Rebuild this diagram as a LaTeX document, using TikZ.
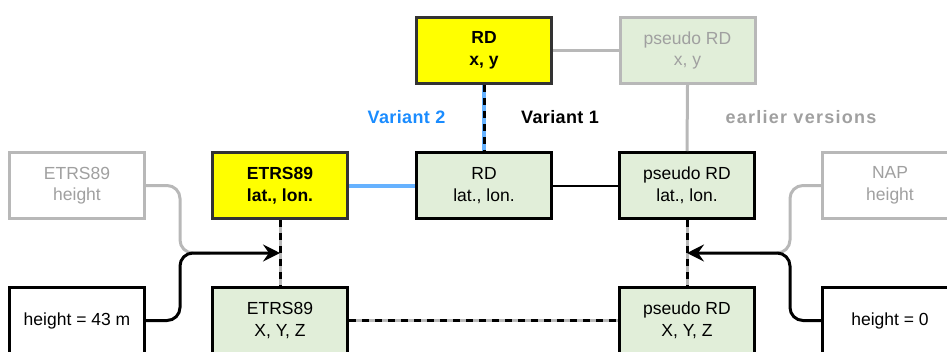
\documentclass[tikz,border=0pt]{standalone}
\usepackage{fontspec}
\setmainfont{Liberation Sans}
\usetikzlibrary{arrows.meta,calc}
\definecolor{gfill}{HTML}{E1EED9}
\definecolor{lgray}{HTML}{B8B8B8}
\definecolor{tgray}{HTML}{A0A0A0}
\definecolor{lblue}{HTML}{66B2FF}
\definecolor{tblue}{HTML}{1A8CFF}
\definecolor{dgray}{HTML}{333333}
\definecolor{yel}{HTML}{FFFF00}
\begin{document}
\begin{tikzpicture}[x=1pt,y=-1pt,
  font=\fontsize{17.5}{21.5}\selectfont,
  box/.style={rectangle, minimum width=135pt, minimum height=66pt, line width=3pt, align=center, inner sep=0pt},
  yelbox/.style={box, draw=dgray, fill=yel, font=\fontsize{17.5}{21.5}\selectfont\bfseries},
  grnbox/.style={box, draw=black, fill=gfill},
  oldbox/.style={box, draw=lgray, fill=white, text=tgray},
  oldgrn/.style={box, draw=lgray, fill=gfill, text=tgray},
  whtbox/.style={box, draw=black, fill=white},
  gline/.style={lgray, line width=3pt},
  bline/.style={lblue, line width=4pt},
  dashover/.style={black, line width=3pt, dash pattern=on 7pt off 6pt},
  lbl/.style={font=\fontsize{18}{21.5}\selectfont\bfseries\addfontfeature{LetterSpace=2}},
  lblwide/.style={font=\fontsize{18}{21.5}\selectfont\bfseries\addfontfeature{LetterSpace=7}},
  arr/.style={black, line width=3pt, rounded corners=13pt, -{Stealth[length=17pt,width=17pt,inset=6pt]}}
]
\useasboundingbox (0,0) rectangle (947,351);
\clip (0,0) rectangle (947,351);

\node[yelbox] (RDxy) at (484,50.5) {RD\\x, y};
\node[oldgrn] (Pxy) at (687.5,50.5) {pseudo RD\\x, y};
\node[grnbox] (RDll) at (484,185.5) {RD\\lat., lon.};
\node[yelbox] (Ell) at (280,185.5) {ETRS89\\lat., lon.};
\node[grnbox] (Pll) at (687,185.5) {pseudo RD\\lat., lon.};
\node[oldbox] (Eh) at (77,185.5) {ETRS89\\height};
\node[oldbox] (Nh) at (890,185.5) {NAP\\height};
\node[whtbox] (h43) at (77,320.5) {height = 43 m};
\node[whtbox] (h0) at (890,320.5) {height = 0};
\node[grnbox] (Exyz) at (280,320.5) {ETRS89\\X, Y, Z};
\node[grnbox] (Pxyz) at (687,320.5) {pseudo RD\\X, Y, Z};

\node[lbl, text=tblue] (v2) at (406.5,117) {Variant 2};
\node[lbl] (v1) at (560,117) {Variant 1};
\node[lblwide, text=tgray] (ev) at (801,117) {earlier versions};

\coordinate (jL) at ($(Ell.south)!0.5!(Exyz.north)$);
\coordinate (jR) at ($(Pll.south)!0.5!(Pxyz.north)$);

% top connections
\draw[gline] (RDxy.east) -- (Pxy.west);
\draw[gline] (Pxy.south) -- (Pll.north);
\draw[bline] (RDxy.south) -- (RDll.north);
\draw[dashover] (RDxy.south) -- (RDll.north);
\draw[bline] (Ell.east) -- (RDll.west);
\draw[black, line width=2pt] (RDll.east) -- (Pll.west);

% vertical dashed
\draw[gline] (Ell.south) -- (Exyz.north);
\draw[dashover] (Ell.south) -- (Exyz.north);
\draw[gline] (Pll.south) -- (Pxyz.north);
\draw[dashover] (Pll.south) -- (Pxyz.north);

% bottom dashed
\draw[gline] (Exyz.east) -- (Pxyz.west);
\draw[dashover] (Exyz.east) -- (Pxyz.west);

% height inputs
\draw[gline, rounded corners=13pt] (Eh.east) -| (180,253) -- (210,253);
\draw[gline, rounded corners=13pt] (Nh.west) -| (790,253) -- (760,253);
\draw[arr] (h43.east) -| (180,253) -- (jL);
\draw[arr] (h0.west) -| (790,253) -- (jR);
\end{tikzpicture}
\end{document}
